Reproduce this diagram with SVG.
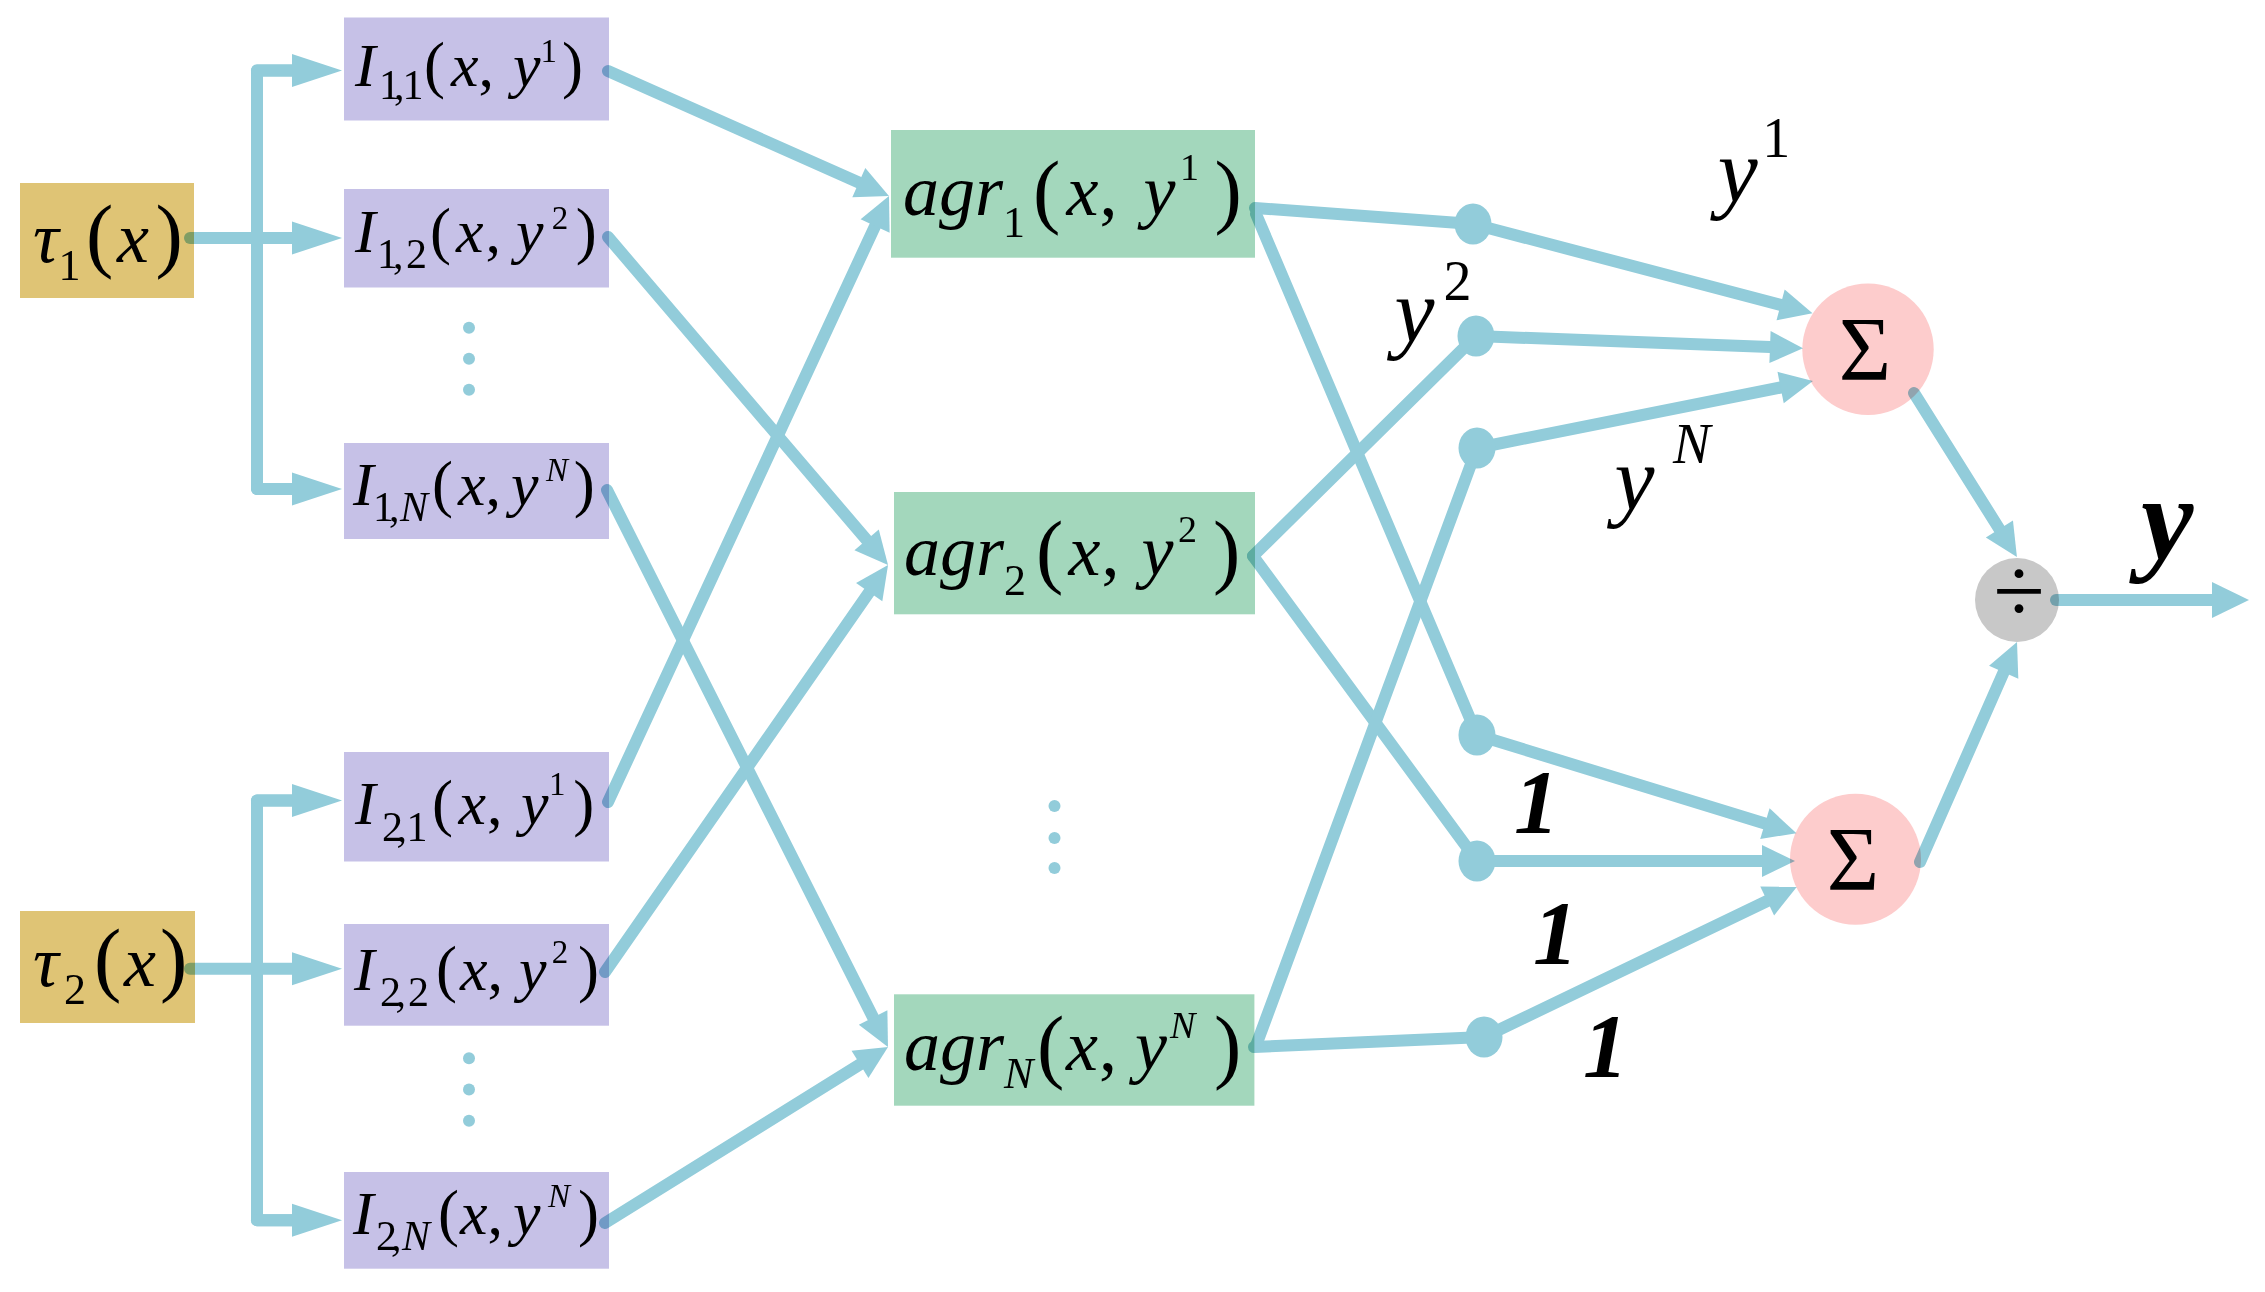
<svg xmlns="http://www.w3.org/2000/svg" width="2265" height="1292" viewBox="0 0 2265 1292" font-family="'Liberation Serif','Times New Roman',serif">
<style>
.tau{fill:#dfc475}
.ib{fill:#c6c1e7}
.ag{fill:#a3d7bc}
.sg{fill:#fdcccc}
.dv{fill:#c8c8c8}
text{font-family:"Liberation Serif","Times New Roman",serif;fill:#000}
.i{font-style:italic}
.b{font-weight:bold}
.c path{fill:none;stroke:#92ccda;stroke-width:12;stroke-linecap:round;stroke-linejoin:round}
.jd{fill:#92ccda}
.sa{marker-end:url(#sm)}
.la{marker-end:url(#big)}
</style>
<defs>
<marker id="big" markerUnits="userSpaceOnUse" orient="auto" refX="0" refY="0" markerWidth="50" markerHeight="34" overflow="visible"><path d="M0,-16.5 L50,0 L0,16.5 Z" fill="#92ccda"/></marker>
<marker id="sm" markerUnits="userSpaceOnUse" orient="auto" refX="0" refY="0" markerWidth="33" markerHeight="32" overflow="visible"><path d="M0,-16 L33,0 L0,16 Z" fill="#92ccda"/></marker>
<marker id="out" markerUnits="userSpaceOnUse" orient="auto" refX="0" refY="0" markerWidth="37" markerHeight="36" overflow="visible"><path d="M0,-18 L37,0 L0,18 Z" fill="#92ccda"/></marker>
</defs>
<rect width="2265" height="1292" fill="#fff"/>

<g id="tau1"><rect class="tau" x="20" y="183" width="174" height="115"/>
<text font-size="72" y="262"><tspan class="i" x="33">τ</tspan><tspan font-size="44" x="58.5" y="280">1</tspan><tspan font-size="82" x="86" y="262">(</tspan><tspan class="i" x="117" y="262">x</tspan><tspan font-size="82" x="155.5" y="262">)</tspan></text></g>
<g id="tau2"><rect class="tau" x="20" y="911" width="175" height="112"/>
<text font-size="72" y="986"><tspan class="i" x="33">τ</tspan><tspan font-size="44" x="64" y="1004">2</tspan><tspan font-size="82" x="94" y="986">(</tspan><tspan class="i" x="124" y="986">x</tspan><tspan font-size="82" x="160" y="986">)</tspan></text></g>

<g id="I11"><rect class="ib" x="344" y="17.5" width="265" height="103"/>
<text font-size="62" y="86"><tspan class="i" x="355">I</tspan><tspan font-size="42" x="379 394 402.5" y="99">1,1</tspan><tspan font-size="63" x="424" y="86">(</tspan><tspan class="i" x="451">x</tspan><tspan x="478.5">,</tspan><tspan class="i" x="513">y</tspan><tspan font-size="33" x="540.5" y="61.5">1</tspan><tspan font-size="63" x="562" y="86">)</tspan></text></g>
<g id="I12"><rect class="ib" x="344" y="189" width="265" height="98.5"/>
<text font-size="62" y="252"><tspan class="i" x="355">I</tspan><tspan font-size="42" x="377 393 406" y="268">1,2</tspan><tspan font-size="63" x="430" y="252">(</tspan><tspan class="i" x="456">x</tspan><tspan x="485.5">,</tspan><tspan class="i" x="516">y</tspan><tspan font-size="33" x="551.8" y="229">2</tspan><tspan font-size="63" x="575.7" y="252">)</tspan></text></g>
<g id="I1N"><rect class="ib" x="344" y="443" width="265" height="96"/>
<text font-size="62" y="505"><tspan class="i" x="353">I</tspan><tspan font-size="42" x="373 389" y="521">1,</tspan><tspan font-size="42" class="i" x="400" y="521">N</tspan><tspan font-size="63" x="432" y="505">(</tspan><tspan class="i" x="458">x</tspan><tspan x="485.5">,</tspan><tspan class="i" x="511">y</tspan><tspan font-size="33" class="i" x="546" y="481">N</tspan><tspan font-size="63" x="573.7" y="505">)</tspan></text></g>
<g id="I21"><rect class="ib" x="344" y="752" width="265" height="109.5"/>
<text font-size="62" y="824"><tspan class="i" x="355">I</tspan><tspan font-size="42" x="382 396.5 406.5" y="841">2,1</tspan><tspan font-size="63" x="432" y="824">(</tspan><tspan class="i" x="458.5">x</tspan><tspan x="487">,</tspan><tspan class="i" x="521">y</tspan><tspan font-size="33" x="549" y="795">1</tspan><tspan font-size="63" x="573.2" y="824">)</tspan></text></g>
<g id="I22"><rect class="ib" x="344" y="924" width="265" height="101.7"/>
<text font-size="62" y="990"><tspan class="i" x="354">I</tspan><tspan font-size="42" x="380 395.5 408" y="1006">2,2</tspan><tspan font-size="63" x="436" y="990">(</tspan><tspan class="i" x="460">x</tspan><tspan x="487.5">,</tspan><tspan class="i" x="519">y</tspan><tspan font-size="33" x="551.8" y="963">2</tspan><tspan font-size="63" x="578" y="990">)</tspan></text></g>
<g id="I2N"><rect class="ib" x="344" y="1172" width="265" height="96.7"/>
<text font-size="62" y="1234"><tspan class="i" x="353">I</tspan><tspan font-size="42" x="376 391" y="1250">2,</tspan><tspan font-size="42" class="i" x="402" y="1250">N</tspan><tspan font-size="63" x="438" y="1234">(</tspan><tspan class="i" x="460">x</tspan><tspan x="487.5">,</tspan><tspan class="i" x="513">y</tspan><tspan font-size="33" class="i" x="548" y="1207">N</tspan><tspan font-size="63" x="578" y="1234">)</tspan></text></g>

<g id="agr1"><rect class="ag" x="891" y="130" width="364" height="127.7"/>
<text font-size="72" y="215"><tspan class="i" x="903">agr</tspan><tspan font-size="44" x="1003" y="237">1</tspan><tspan font-size="82" x="1033" y="218">(</tspan><tspan class="i" x="1066.5" y="215">x</tspan><tspan x="1099.5">,</tspan><tspan class="i" x="1143.5">y</tspan><tspan font-size="38" x="1180" y="180">1</tspan><tspan font-size="82" x="1214.5" y="218">)</tspan></text></g>
<g id="agr2"><rect class="ag" x="894" y="492" width="361" height="122.3"/>
<text font-size="72" y="575"><tspan class="i" x="904">agr</tspan><tspan font-size="44" x="1004" y="595">2</tspan><tspan font-size="82" x="1036" y="578">(</tspan><tspan class="i" x="1068.5" y="575">x</tspan><tspan x="1101.5">,</tspan><tspan class="i" x="1141.5">y</tspan><tspan font-size="38" x="1178" y="542">2</tspan><tspan font-size="82" x="1213" y="578">)</tspan></text></g>
<g id="agrN"><rect class="ag" x="894" y="994.3" width="360.4" height="111.4"/>
<text font-size="72" y="1070"><tspan class="i" x="904">agr</tspan><tspan font-size="44" class="i" x="1004" y="1088">N</tspan><tspan font-size="82" x="1037" y="1073">(</tspan><tspan class="i" x="1066" y="1070">x</tspan><tspan x="1099">,</tspan><tspan class="i" x="1135">y</tspan><tspan font-size="38" class="i" x="1170" y="1038">N</tspan><tspan font-size="82" x="1214" y="1073">)</tspan></text></g>

<g id="sum1"><circle class="sg" cx="1868" cy="349.3" r="65.7"/><text font-size="90" x="1865" y="380" text-anchor="middle">Σ</text></g>
<g id="sum2"><circle class="sg" cx="1855.5" cy="859.2" r="65.5"/><text font-size="90" x="1853" y="890" text-anchor="middle">Σ</text></g>
<g id="div"><circle class="dv" cx="2017" cy="600" r="42"/><text font-size="94" x="2019" y="622" text-anchor="middle">÷</text></g>

<g id="ellipsis" class="jd">
<circle cx="469" cy="327.7" r="6"/><circle cx="469" cy="358.8" r="6"/><circle cx="469" cy="389.8" r="6"/>
<circle cx="469" cy="1058.3" r="6"/><circle cx="469" cy="1089.4" r="6"/><circle cx="469" cy="1120.7" r="6"/>
<circle cx="1054.5" cy="806" r="6"/><circle cx="1054.5" cy="838" r="6"/><circle cx="1054.5" cy="868" r="6"/>
</g>

<g id="connectors" class="c" style="mix-blend-mode:multiply">
<path d="M292,70.5 H257 V489 H292"/>
<path class="la" d="M257,70.5 H292"/>
<path class="la" d="M190,238 H292"/>
<path class="la" d="M257,489 H292"/>
<path d="M292,800.6 H257 V1220.3 H292"/>
<path class="la" d="M257,800.6 H292"/>
<path class="la" d="M190,968.7 H292"/>
<path class="la" d="M257,1220.3 H292"/>

<path class="sa" d="M608,71 L858.8,182.6"/>
<path class="sa" d="M608,802 L875.1,225.9"/>
<path class="sa" d="M608,237 L866.6,539.9"/>
<path class="sa" d="M605,972 L869.2,592.1"/>
<path class="sa" d="M607,490 L873.1,1017.5"/>
<path class="sa" d="M605,1223 L860,1064.4"/>

<path d="M1255,208 L1473,224"/>
<path d="M1256,214 L1477,735"/>
<path d="M1253,556 L1476,336"/>
<path d="M1253,556 L1477,861"/>
<path d="M1254,1047 L1484,1037"/>
<path d="M1257,1043 L1477,448"/>

<path class="sa" d="M1473,224 L1780.6,304.9"/>
<path class="sa" d="M1476,336 L1770,347.1"/>
<path class="sa" d="M1477,448 L1780.6,387.5"/>
<path class="sa" d="M1477,735 L1764.9,823.6"/>
<path class="sa" d="M1477,861 L1762,861"/>
<path class="sa" d="M1484,1037 L1767.2,901"/>

<path class="sa" d="M1914,393 L1999.4,529.1"/>
<path class="sa" d="M1920,862 L2003.7,672.2"/>
<path style="marker-end:url(#out)" d="M2056,600 H2212"/>

<g class="jd">
<ellipse cx="1473" cy="224" rx="18.5" ry="20.5"/>
<ellipse cx="1476" cy="336" rx="18.5" ry="20.5"/>
<ellipse cx="1477" cy="448" rx="18.5" ry="20.5"/>
<ellipse cx="1477" cy="735" rx="18.5" ry="20.5"/>
<ellipse cx="1477" cy="861" rx="18.5" ry="20.5"/>
<ellipse cx="1484" cy="1037" rx="18.5" ry="20.5"/>
</g>
</g>

<g id="labels">
<text font-size="90" y="202"><tspan class="i" x="1717.8">y</tspan><tspan font-size="56" x="1762.2" y="156.7">1</tspan></text>
<text font-size="90" y="342"><tspan class="i" x="1394.5">y</tspan><tspan font-size="56" x="1443.5" y="300">2</tspan></text>
<text font-size="90" y="510"><tspan class="i" x="1614.5">y</tspan><tspan font-size="56" class="i" x="1673" y="463">N</tspan></text>
<text class="i b" font-size="90" x="1514" y="833">1</text>
<text class="i b" font-size="90" x="1533" y="964">1</text>
<text class="i b" font-size="90" x="1583" y="1077">1</text>
<text class="i b" font-size="118" x="2141" y="559">y</text>
</g>
</svg>
